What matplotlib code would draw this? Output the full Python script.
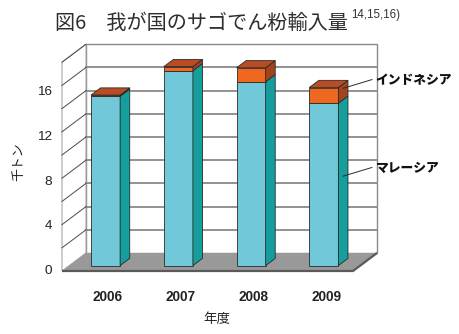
import matplotlib
matplotlib.use("Agg")
import matplotlib.pyplot as plt
from matplotlib.patches import Polygon

plt.rcParams["font.family"] = ["Noto Sans CJK JP", "DejaVu Sans"]

# data (thousand tons)
years = ["2006", "2007", "2008", "2009"]
malaysia = [14.6, 16.8, 15.85, 14.0]
indonesia = [0.1, 0.35, 1.2, 1.35]
y_ticks = [0, 4, 8, 12, 16]
y_max = 18
grid_step = 2

title = "図6　我が国のサゴでん粉輸入量"
title_ref = "14,15,16)"
x_label = "年度"
y_label = "千トン"
label_malaysia = "マレーシア"
label_indonesia = "インドネシア"

# layout: pixel mapping of the pseudo-3D frame
W, H = 460, 334
ORIGIN_PX = (62, 271)
PX_PER_X = 72.75
PX_PER_Y = 11.6
DX = 24 / PX_PER_X      # full wall depth, x units
DY = 18 / PX_PER_Y      # full wall depth, y units
Z0, Z1 = 0.3, 0.7       # bar depth span
BAR_W = 0.4
LABEL_SHRINK = 0.963

C_FRONT = ("#70C8D8", "#F06820")
C_SIDE = ("#169E9C", "#A5421E")
C_TOP = ("#9ADCE6", "#B94C22")
EDGE = "#2a2a2a"
TXT = "#222222"


def draw_box(ax, x0, x1, y0, y1, k, with_top):
    f = [(x0 + Z0 * DX, y0 + Z0 * DY), (x1 + Z0 * DX, y0 + Z0 * DY),
         (x1 + Z0 * DX, y1 + Z0 * DY), (x0 + Z0 * DX, y1 + Z0 * DY)]
    s = [(x1 + Z0 * DX, y0 + Z0 * DY), (x1 + Z1 * DX, y0 + Z1 * DY),
         (x1 + Z1 * DX, y1 + Z1 * DY), (x1 + Z0 * DX, y1 + Z0 * DY)]
    ax.add_patch(Polygon(f, closed=True, fc=C_FRONT[k], ec=EDGE, lw=0.6, zorder=5))
    ax.add_patch(Polygon(s, closed=True, fc=C_SIDE[k], ec=EDGE, lw=0.6, zorder=5))
    if with_top:
        t = [(x0 + Z0 * DX, y1 + Z0 * DY), (x1 + Z0 * DX, y1 + Z0 * DY),
             (x1 + Z1 * DX, y1 + Z1 * DY), (x0 + Z1 * DX, y1 + Z1 * DY)]
        ax.add_patch(Polygon(t, closed=True, fc=C_TOP[k], ec=EDGE, lw=0.6, zorder=5))


fig = plt.figure(figsize=(W / 100, H / 100), dpi=100)
fig.patch.set_facecolor("white")
ax = fig.add_axes([0, 0, 1, 1])
ax.set_xlim(-ORIGIN_PX[0] / PX_PER_X, (W - ORIGIN_PX[0]) / PX_PER_X)
ax.set_ylim(-(H - ORIGIN_PX[1]) / PX_PER_Y, ORIGIN_PX[1] / PX_PER_Y)
ax.axis("off")

n = len(years)

# walls
back = [(DX, DY), (n + DX, DY), (n + DX, DY + y_max), (DX, DY + y_max)]
left = [(0, 0), (DX, DY), (DX, DY + y_max), (0, y_max)]
ax.add_patch(Polygon(back, closed=True, fc="white", ec="#8a8a8a", lw=1.0, zorder=1))
ax.add_patch(Polygon(left, closed=True, fc="white", ec="#a8a8a8", lw=0.8, zorder=1))

for v in range(grid_step, y_max, grid_step):
    ax.plot([DX, n + DX], [DY + v, DY + v], color="#8a8a8a", lw=1.3, zorder=2)
for v in range(grid_step, y_max + 1, grid_step):
    ax.plot([0, DX], [v, DY + v], color="#4a4a4a", lw=0.7, zorder=2)

# floor
floor = [(0, 0), (n, 0), (n + DX, DY), (DX, DY)]
ax.add_patch(Polygon(floor, closed=True, fc="#999999", ec="none", zorder=3))
ax.plot([0, n, n + DX], [0, 0, DY], color="#5a5a5a", lw=1.6, zorder=3,
        solid_capstyle="butt")

# bars
for i in range(n):
    x0 = i + 0.5 - BAR_W / 2
    x1 = i + 0.5 + BAR_W / 2
    m = malaysia[i]
    t = m + indonesia[i]
    draw_box(ax, x0, x1, 0, m, 0, False)
    draw_box(ax, x0, x1, m, t, 1, True)
    ax.text(i + 0.5 + 0.4 * DX, -2.24, years[i], ha="center", va="center",
            fontsize=9.8, fontweight="bold", family="Liberation Sans", color=TXT)

# y tick labels
for v in y_ticks:
    ax.text(-0.137, v * LABEL_SHRINK, str(v), ha="right", va="center",
            fontsize=9.7, family="Liberation Sans", color=TXT)

# series annotations on the last bar
last = n - 1
side_x = last + 0.5 + BAR_W / 2 + 0.5 * (Z0 + Z1) * DX
mid_dy = 0.5 * (Z0 + Z1) * DY
anchors = [
    (label_indonesia, malaysia[last] + indonesia[last] / 2 + mid_dy + 0.3),
    (label_malaysia, malaysia[last] / 2 + mid_dy + 0.4),
]
for lab, ya in anchors:
    ax.plot([side_x, 4.26], [ya, ya + 0.75], color=EDGE, lw=0.7, zorder=6)
    ax.text(4.31, ya + 0.7, lab, ha="left", va="center", fontsize=9.2,
            fontweight="heavy", color="#111111")

# axis titles
ax.text(2 + 0.4 * DX, -4.14, x_label, ha="center", va="center", fontsize=9.7, color=TXT)
ax.text(-0.59, 9.4, y_label, ha="center", va="center", rotation=90,
        fontsize=9.3, color=TXT)

fig.text(55 / W, 1 - 23 / H, title, ha="left", va="center", fontsize=14.5,
         color="#2e2e2e")
fig.text(351 / W, 1 - 15 / H, title_ref, ha="left", va="center", fontsize=8.3,
         family="Liberation Sans", color="#333333")

fig.savefig("out.png", dpi=100, facecolor="white")
